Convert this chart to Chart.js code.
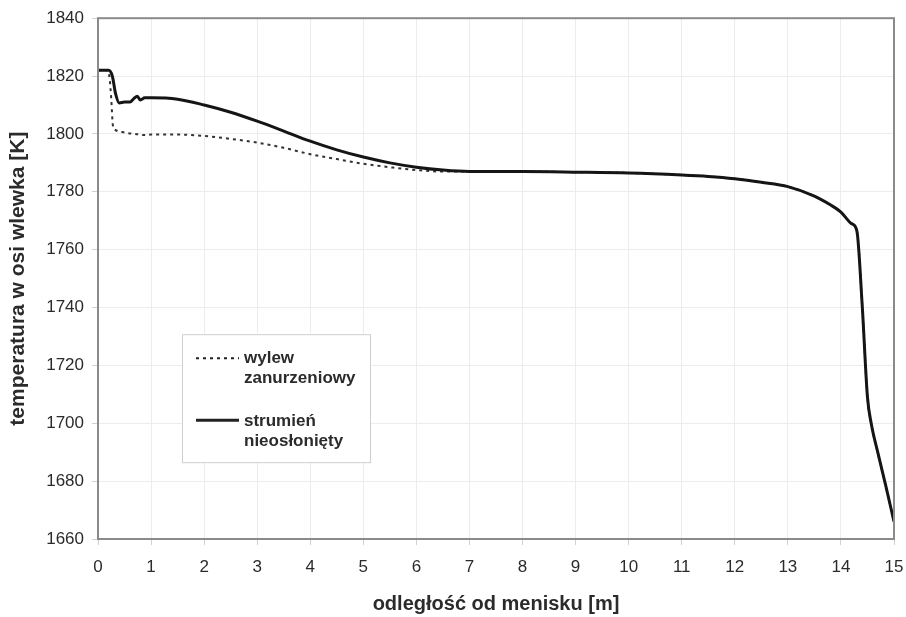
<!DOCTYPE html>
<html>
<head>
<meta charset="utf-8">
<script src="https://cdn.jsdelivr.net/npm/chart.js@4.4.0/dist/chart.umd.min.js"></script>
<style>
  html, body { margin: 0; padding: 0; background: #fff; }
  #wrap { width: 906px; height: 617px; }
</style>
</head>
<body>
<div id="wrap"><canvas id="myChart" width="906" height="617"></canvas></div>
<script>
// odległość od menisku [m] / temperatura [K]
const solidX = [0, 0.2, 0.27, 0.33, 0.4, 0.5, 0.6, 0.68, 0.74, 0.8, 0.88, 1.0, 1.5, 2.0, 2.5, 3.0, 3.5, 4.0, 4.5, 5.0, 5.5, 6.0, 6.5, 7.0, 8.0, 9.0, 10.0, 11.0, 11.5, 12.0, 12.5, 13.0, 13.5, 13.8, 14.0, 14.2, 14.3, 14.4, 14.5, 14.57, 14.7, 14.85, 15.0];
const solidY = [1822, 1822, 1820, 1814, 1810.7, 1811, 1811, 1812.3, 1813, 1811.7, 1812.5, 1812.5, 1812, 1810, 1807.5, 1804.4, 1801, 1797.5, 1794.5, 1792, 1790, 1788.5, 1787.5, 1787, 1787, 1786.8, 1786.5, 1785.8, 1785.3, 1784.5, 1783.3, 1781.8, 1778.5, 1775.5, 1773, 1769, 1766.5, 1741, 1709, 1700, 1689.5, 1678, 1666];

const dashX = [0, 0.18, 0.22, 0.25, 0.28, 0.32, 0.5, 0.7, 0.9, 1.0, 1.5, 2.0, 2.5, 3.0, 3.5, 4.0, 4.5, 5.0, 5.5, 6.0, 6.5, 7.0];
const dashY = [1822, 1822, 1819, 1812, 1803, 1801.5, 1800.5, 1800, 1799.6, 1799.8, 1799.8, 1799.3, 1798.3, 1797, 1795.2, 1793, 1791.3, 1789.7, 1788.5, 1787.5, 1787, 1787];

const seriesNames = [["wylew", "zanurzeniowy"], ["strumień", "nieosłonięty"]];
const xTitle = "odległość od menisku [m]";
const yTitle = "temperatura w osi wlewka [K]";

// tail of dashed curve lies under the solid one
const k = solidX.indexOf(7.0);
const dashAllX = dashX.concat(solidX.slice(k + 1));
const dashAllY = dashY.concat(solidY.slice(k + 1));

function pts(xs, ys) {
  return xs.map((x, i) => ({ x: x, y: ys[i] }));
}

const txt = '#2b2b2b';
const fontFam = "'Liberation Sans', Arial, sans-serif";

// frame + legend box
const framePlugin = {
  id: 'frame',
  afterDatasetsDraw(chart) {
    const ctx = chart.ctx, a = chart.chartArea;
    ctx.save();
    ctx.strokeStyle = '#8a8a8a';
    ctx.lineWidth = 2;
    ctx.strokeRect(a.left, a.top, a.right - a.left, a.bottom - a.top);

    // legend
    const bx = a.left + 84, by = a.top + 316, bw = 188, bh = 128;
    ctx.fillStyle = '#fff';
    ctx.fillRect(bx, by, bw, bh);
    ctx.strokeStyle = '#cfcfcf';
    ctx.lineWidth = 1;
    ctx.strokeRect(bx + 0.5, by + 0.5, bw, bh);

    ctx.strokeStyle = '#222';
    ctx.lineWidth = 2;
    ctx.setLineDash([3, 4]);
    ctx.beginPath();
    ctx.moveTo(bx + 14, by + 24);
    ctx.lineTo(bx + 57, by + 24);
    ctx.stroke();
    ctx.setLineDash([]);
    ctx.lineWidth = 3;
    ctx.beginPath();
    ctx.moveTo(bx + 14, by + 86);
    ctx.lineTo(bx + 57, by + 86);
    ctx.stroke();

    ctx.fillStyle = txt;
    ctx.font = "bold 17px " + fontFam;
    ctx.textBaseline = 'middle';
    ctx.textAlign = 'left';
    ctx.fillText(seriesNames[0][0], bx + 62, by + 24);
    ctx.fillText(seriesNames[0][1], bx + 62, by + 44);
    ctx.fillText(seriesNames[1][0], bx + 62, by + 87);
    ctx.fillText(seriesNames[1][1], bx + 62, by + 107);
    ctx.restore();
  }
};

const myChart = document.getElementById('myChart').getContext('2d');
const chart = new Chart(myChart, {
  type: 'line',
  data: {
    datasets: [
      {
        label: seriesNames[1].join(' '),
        data: pts(solidX, solidY),
        borderColor: '#151515',
        borderWidth: 3,
        pointRadius: 0,
        fill: false,
        cubicInterpolationMode: 'monotone',
        order: 0
      },
      {
        label: seriesNames[0].join(' '),
        data: pts(dashAllX, dashAllY),
        borderColor: '#333',
        borderWidth: 2,
        borderDash: [3, 4],
        pointRadius: 0,
        fill: false,
        cubicInterpolationMode: 'monotone',
        order: 1
      }
    ]
  },
  options: {
    responsive: false,
    animation: false,
    layout: { padding: { left: 0, top: 16, right: 0, bottom: 0 } },
    plugins: {
      legend: { display: false },
      tooltip: { enabled: false }
    },
    scales: {
      x: {
        type: 'linear',
        min: 0,
        max: 15,
        afterFit: s => { s.height = 78; s.paddingRight = 12; },
        ticks: { stepSize: 1, color: txt, padding: 12, font: { family: fontFam, size: 17 }, callback: v => String(v) },
        grid: { color: '#ececec', tickColor: '#d0d0d0', tickLength: 6 },
        border: { display: false },
        title: {
          display: true,
          text: xTitle,
          color: txt,
          padding: { top: 0, bottom: 1 },
          font: { family: fontFam, size: 20, weight: 'bold' }
        }
      },
      y: {
        min: 1660,
        max: 1840,
        afterFit: s => { s.width = 98; },
        ticks: { stepSize: 20, color: txt, padding: 8, font: { family: fontFam, size: 17 }, callback: v => String(v) },
        grid: { color: '#ececec', tickColor: '#d0d0d0', tickLength: 6 },
        border: { display: false },
        title: {
          display: true,
          text: yTitle,
          color: txt,
          padding: { top: 6, bottom: 0 },
          font: { family: fontFam, size: 21, weight: 'bold' }
        }
      }
    }
  },
  plugins: [framePlugin]
});
</script>
</body>
</html>
